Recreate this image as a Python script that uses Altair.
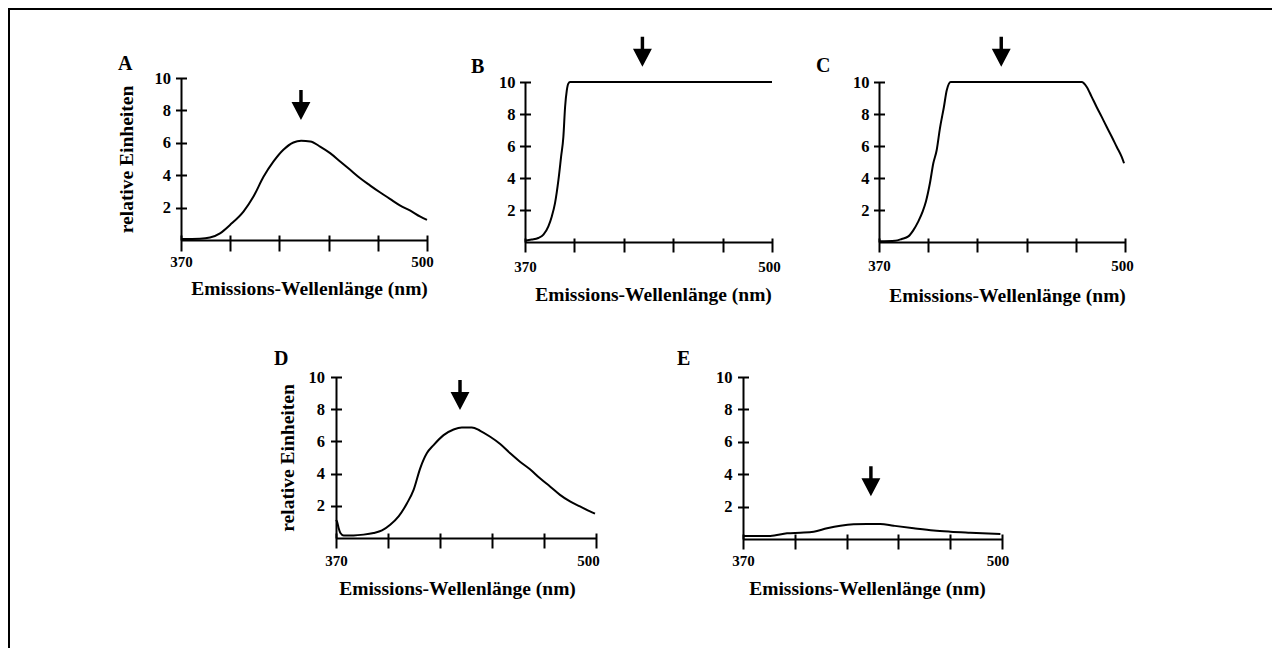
import altair as alt
import pandas as pd

FONT = "Liberation Serif"
W, H = 1264, 640

# ---------------- data ----------------
A_wl = [370, 380, 385.3, 390.6, 395.9, 403, 408.3, 413.6, 418.9, 424.1, 429.4, 433.5,
        438.3, 443.5, 448.8, 454.1, 459.4, 464.7, 470, 475.3, 480.6, 485.9, 491.2, 496.5, 500]
A_val = [0.06, 0.08, 0.15, 0.41, 0.93, 1.75, 2.68, 3.9, 4.85, 5.57, 6.02, 6.12,
         6.08, 5.77, 5.36, 4.85, 4.33, 3.81, 3.36, 2.93, 2.52, 2.12, 1.81, 1.44, 1.24]

B_wl = [370, 373.5, 377, 379.7, 382.3, 384.1, 385.8, 387.6, 389, 390.2, 391.1, 392, 392.8, 393.7, 500]
B_val = [0.08, 0.15, 0.25, 0.46, 0.98, 1.6, 2.43, 3.88, 5.33, 6.58, 8.44, 9.48, 9.9, 10, 10]

C_wl = [370, 378.5, 382, 385.5, 388.1, 390.8, 393.1, 394.8, 396.9, 398.7, 400.5, 402.2, 404.3,
        405.8, 407.9, 477.1, 479.8, 482.4, 485, 487.7, 490.3, 493, 495.6, 498.2, 499.5]
C_val = [0.04, 0.08, 0.19, 0.35, 0.73, 1.29, 1.91, 2.53, 3.67, 4.92, 5.75, 7.1, 8.44,
         9.48, 10, 10, 9.69, 9.07, 8.44, 7.82, 7.2, 6.58, 5.95, 5.33, 4.92]

D_wl = [370, 370.5, 371.3, 372.2, 373.8, 378.8, 383.8, 388.8, 393, 397.1, 401.3, 405.5, 408.8,
        412.1, 415.4, 418.8, 423.8, 428.8, 432.9, 437.9, 442.1, 447.1, 452.1, 457.1, 462, 467,
        472, 477, 482, 487, 492, 497, 499.5]
D_val = [1.13, 1.03, 0.62, 0.31, 0.16, 0.16, 0.21, 0.31, 0.47, 0.82, 1.34, 2.16, 2.99,
         4.33, 5.26, 5.77, 6.39, 6.74, 6.87, 6.87, 6.66, 6.29, 5.84, 5.26, 4.74, 4.27,
         3.71, 3.2, 2.68, 2.27, 1.96, 1.65, 1.51]

E_wl = [370, 383.7, 392.1, 398.8, 405.5, 412.2, 418.9, 425.5, 432.2, 438.9, 445.6, 455.7,
        465.7, 474.1, 484.1, 499.2]
E_val = [0.19, 0.19, 0.35, 0.39, 0.45, 0.66, 0.82, 0.91, 0.93, 0.93, 0.82, 0.66,
         0.52, 0.45, 0.39, 0.31]

panel_letters = ["A", "B", "C", "D", "E"]
arrow_wl = [433.4, 431.8, 434.6, 432.0, 434.2]
arrow_val = [8.33, 11.89, 11.89, 8.88, 3.56]
x_ticks = [370, 396, 422, 448, 474, 500]
y_ticks = [2, 4, 6, 8, 10]
x_title = "Emissions-Wellenlänge (nm)"
y_title = "relative Einheiten"

curves = [(A_wl, A_val), (B_wl, B_val), (C_wl, C_val), (D_wl, D_val), (E_wl, E_val)]

# ---------------- layout / styling (pixels) ----------------
L = [
    dict(xr=[173, 419], yr=[232, 70], xt=227, xts=16, xlp=15, lo500=-5, tx=301, ty=59,
         yt=178.5, ylp=5, ytitle=True, ytx=-54.5, lx=110, ly=62),
    dict(xr=[517, 764], yr=[234, 74], xt=230, xts=14, xlp=19, lo500=-3, tx=645, ty=62.5,
         yt=522.5, ylp=4.5, ytitle=False, ytx=0, lx=463, ly=64.5),
    dict(xr=[871, 1117], yr=[234, 74], xt=230, xts=14, xlp=18, lo500=-3, tx=999, ty=63,
         yt=876.5, ylp=4.5, ytitle=False, ytx=0, lx=808, ly=63.5),
    dict(xr=[328, 588], yr=[530, 369], xt=525, xts=15, xlp=17, lo500=-8, tx=449, ty=61,
         yt=333.5, ylp=6, ytitle=True, ytx=-48.5, lx=266, ly=357),
    dict(xr=[735, 994], yr=[531, 369], xt=526, xts=15, xlp=16, lo500=-4.5, tx=859, ty=60,
         yt=740.5, ylp=5.5, ytitle=False, ytx=0, lx=669, ly=357),
]

ARROW = "M-0.115,-1 L0.115,-1 L0.115,-0.2 L0.63,-0.2 L0,1 L-0.63,-0.2 L-0.115,-0.2 Z"

XLABEL_STYLE = dict(labelFont=FONT, labelFontSize=15, labelFontWeight="bold", labelColor="black")
YLABEL_STYLE = dict(labelFont=FONT, labelFontSize=16.5, labelFontWeight="bold", labelColor="black")
TITLE_STYLE = dict(titleFont=FONT, titleFontSize=19.5, titleFontWeight="bold", titleColor="black")
LINE_STYLE = dict(grid=False, domainColor="black", domainWidth=2, tickColor="black", tickWidth=2)


def make_panel(i):
    p = L[i]
    wl, val = curves[i]
    df = pd.DataFrame({"wl": wl, "val": val})
    adf = pd.DataFrame({"wl": [arrow_wl[i]], "val": [arrow_val[i]]})
    tdf = pd.DataFrame({"label": [panel_letters[i]]})

    xs = alt.Scale(domain=[370, 500], range=p["xr"], nice=False, zero=False)
    ys = alt.Scale(domain=[0, 10], range=p["yr"], nice=False, zero=False)

    x_tick_axis = alt.Axis(
        orient="bottom", offset=p["xt"] - H, values=x_ticks, domain=False,
        tickSize=p["xts"], labelPadding=p["xlp"], labelBaseline="alphabetic",
        labelFlush=False, labelOverlap=False,
        labelExpr="datum.value == 370 || datum.value == 500 ? datum.label : ''",
        labelOffset={"condition": {"test": "datum.value == 500", "value": p["lo500"]}, "value": 0},
        title=x_title, titleX=p["tx"], titleY=p["ty"], titleBaseline="alphabetic",
        titleAlign="center", **XLABEL_STYLE, **TITLE_STYLE, **LINE_STYLE,
    )
    ykw = dict(orient="left", offset=-p["yt"], values=y_ticks, domain=False, tickSize=11,
               labelPadding=p["ylp"], labelFlush=False, labelOverlap=False,
               **YLABEL_STYLE, **LINE_STYLE)
    if p["ytitle"]:
        ykw.update(title=y_title, titleX=p["ytx"], titleAngle=270,
                   titleBaseline="alphabetic", titleAlign="center", **TITLE_STYLE)
    else:
        ykw.update(title=None)
    y_tick_axis = alt.Axis(**ykw)

    x_dom_axis = alt.Axis(orient="bottom", offset=p["yr"][0] - H, ticks=False, labels=False,
                          domain=True, title=None, **LINE_STYLE)
    y_dom_axis = alt.Axis(orient="left", offset=-p["xr"][0], ticks=False, labels=False,
                          domain=True, title=None, **LINE_STYLE)

    line = alt.Chart(df).mark_line(color="black", strokeWidth=2, interpolate="monotone").encode(
        x=alt.X("wl:Q", scale=xs, axis=x_tick_axis),
        y=alt.Y("val:Q", scale=ys, axis=y_tick_axis),
    )
    arrow = alt.Chart(adf).mark_point(shape=ARROW, size=900, filled=True, color="black",
                                      opacity=1, strokeWidth=0).encode(
        x=alt.X("wl:Q", scale=xs, axis=x_dom_axis),
        y=alt.Y("val:Q", scale=ys, axis=y_dom_axis),
    )
    letter = alt.Chart(tdf).mark_text(font=FONT, fontSize=20, fontWeight="bold", align="left",
                                      baseline="alphabetic", color="black").encode(
        x=alt.value(p["lx"]), y=alt.value(p["ly"]), text="label:N"
    )
    return alt.layer(line, arrow, letter).resolve_axis(x="independent", y="independent")


panels = [make_panel(i) for i in range(5)]

fdf = pd.DataFrame({"k": [0]})
frame_top = alt.Chart(fdf).mark_rule(color="black", strokeWidth=2).encode(
    x=alt.value(0), x2=alt.value(W + 20), y=alt.value(1))
frame_left = alt.Chart(fdf).mark_rule(color="black", strokeWidth=2).encode(
    x=alt.value(1), y=alt.value(0), y2=alt.value(H + 20))

chart = (
    alt.layer(*panels, frame_top, frame_left)
    .resolve_scale(x="independent", y="independent")
    .properties(width=W, height=H, autosize=alt.AutoSizeParams(type="none"), padding=0,
                background="white")
    .configure_axis(
        grid=False, domainColor="black", domainWidth=2, tickColor="black", tickWidth=2,
        labelFont=FONT, labelFontSize=15, labelFontWeight="bold", labelColor="black",
        titleFont=FONT, titleFontSize=19.5, titleFontWeight="bold", titleColor="black",
    )
    .configure_view(strokeWidth=0)
)

chart.save("out.html", embed_options={"renderer": "svg", "actions": False})
